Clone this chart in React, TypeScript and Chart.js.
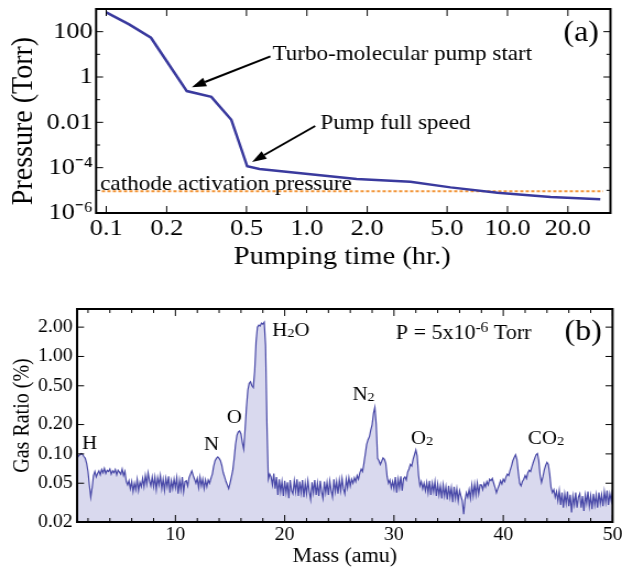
import React, { useEffect, useRef } from "react";
import { Chart, registerables } from "chart.js";

Chart.register(...registerables);

const SERIF = "'Liberation Serif', 'Times New Roman', Times, serif";
const STRETCH = 1.1;
const PAGE_W = 622;
const INNER_W = 565;

// ---------------- Panel (a): pump-down curve ----------------
const pumpTimeHr = [0.1, 0.13, 0.167, 0.252, 0.334, 0.42, 0.504, 0.58, 1.77, 3.28, 5.2, 8.9, 16.4, 29];
const pressureTorr = [710, 210, 54, 0.24, 0.133, 0.013, 1.15e-4, 8.7e-5, 3.2e-5, 2.4e-5, 1.35e-5, 7.8e-6, 5.1e-6, 4e-6];
const activationPressure = 9e-6;
const activationSpanHr = [0.095, 30];
const pressureTicks = [1e-6, 1e-4, 1e-2, 1, 100];
const pressureTickLabels = ["10\u207B\u2076", "10\u207B\u2074", "0.01", "1", "100"];
const pressureMinorTicks = [1e-5, 1e-3, 0.1, 10];
const timeTicks = [0.1, 0.2, 0.5, 1, 2, 5, 10, 20];
const timeTickLabels = ["0.1", "0.2", "0.5", "1.0", "2.0", "5.0", "10.0", "20.0"];

// ---------------- Panel (b): RGA spectrum ----------------
const massStart = 1;
const massStep = 0.125;
const gasRatio = [
  0.090, 0.095, 0.098, 0.101, 0.099, 0.094, 0.090, 0.080,
  0.066, 0.048, 0.036, 0.045, 0.060, 0.066, 0.058, 0.063,
  0.067, 0.061, 0.069, 0.064, 0.071, 0.063, 0.068, 0.066,
  0.070, 0.062, 0.067, 0.064, 0.069, 0.061, 0.068, 0.065,
  0.062, 0.070, 0.060, 0.066, 0.052, 0.048, 0.053, 0.044,
  0.052, 0.041, 0.050, 0.043, 0.055, 0.042, 0.051, 0.046,
  0.056, 0.046, 0.060, 0.049, 0.064, 0.053, 0.047, 0.058,
  0.046, 0.058, 0.043, 0.057, 0.048, 0.060, 0.044, 0.055,
  0.042, 0.056, 0.046, 0.059, 0.040, 0.053, 0.044, 0.055,
  0.045, 0.057, 0.039, 0.054, 0.043, 0.058, 0.041, 0.052,
  0.053, 0.047, 0.057, 0.062, 0.067, 0.060, 0.055, 0.050,
  0.056, 0.045, 0.058, 0.047, 0.055, 0.044, 0.054, 0.046,
  0.054, 0.050, 0.056, 0.062, 0.075, 0.085, 0.090, 0.093,
  0.090, 0.085, 0.076, 0.064, 0.058, 0.052, 0.048, 0.044,
  0.050, 0.058, 0.068, 0.090, 0.125, 0.155, 0.168, 0.172,
  0.160, 0.130, 0.112, 0.180, 0.300, 0.450, 0.530, 0.550,
  0.500, 0.480, 0.700, 1.400, 2.000, 2.100, 2.050, 2.200,
  2.150, 2.250, 1.300, 0.200, 0.055, 0.062, 0.058, 0.048,
  0.063, 0.044, 0.058, 0.038, 0.055, 0.041, 0.052, 0.037,
  0.053, 0.040, 0.051, 0.035, 0.054, 0.042, 0.039, 0.053,
  0.041, 0.055, 0.037, 0.052, 0.040, 0.054, 0.036, 0.050,
  0.039, 0.053, 0.041, 0.034, 0.051, 0.040, 0.054, 0.038,
  0.050, 0.037, 0.053, 0.041, 0.035, 0.052, 0.040, 0.051,
  0.038, 0.053, 0.042, 0.036, 0.055, 0.041, 0.052, 0.039,
  0.054, 0.042, 0.056, 0.044, 0.039, 0.055, 0.045, 0.057,
  0.047, 0.055, 0.050, 0.057, 0.052, 0.060, 0.055, 0.064,
  0.070, 0.066, 0.080, 0.100, 0.125, 0.140, 0.150, 0.175,
  0.200, 0.260, 0.300, 0.200, 0.090, 0.085, 0.078, 0.084,
  0.091, 0.088, 0.080, 0.058, 0.050, 0.054, 0.045, 0.052,
  0.044, 0.058, 0.040, 0.055, 0.045, 0.059, 0.042, 0.056,
  0.058, 0.054, 0.065, 0.070, 0.078, 0.075, 0.088, 0.098,
  0.110, 0.095, 0.060, 0.047, 0.052, 0.044, 0.050, 0.042,
  0.051, 0.040, 0.053, 0.038, 0.050, 0.041, 0.052, 0.037,
  0.049, 0.038, 0.047, 0.035, 0.048, 0.037, 0.046, 0.034,
  0.047, 0.036, 0.045, 0.032, 0.046, 0.035, 0.044, 0.033,
  0.042, 0.037, 0.033, 0.024, 0.034, 0.040, 0.036, 0.043,
  0.035, 0.048, 0.037, 0.049, 0.038, 0.050, 0.039, 0.048,
  0.048, 0.043, 0.050, 0.046, 0.052, 0.048, 0.055, 0.053,
  0.056, 0.050, 0.045, 0.040, 0.044, 0.048, 0.053, 0.049,
  0.055, 0.052, 0.058, 0.062, 0.060, 0.068, 0.075, 0.085,
  0.092, 0.098, 0.088, 0.065, 0.050, 0.047, 0.052, 0.055,
  0.060, 0.056, 0.064, 0.068, 0.066, 0.074, 0.082, 0.090,
  0.098, 0.101, 0.085, 0.060, 0.051, 0.058, 0.068, 0.076,
  0.082, 0.078, 0.062, 0.045, 0.040, 0.043, 0.036, 0.041,
  0.033, 0.042, 0.030, 0.040, 0.028, 0.039, 0.031, 0.041,
  0.029, 0.038, 0.025, 0.037, 0.030, 0.040, 0.028, 0.036,
  0.039, 0.028, 0.037, 0.026, 0.038, 0.031, 0.041, 0.029,
  0.037, 0.027, 0.039, 0.030, 0.038, 0.028, 0.040, 0.031,
  0.038, 0.029, 0.041, 0.032, 0.042, 0.030, 0.039, 0.033,
  0.043,
];
const massTicks = [10, 20, 30, 40, 50];
const massMinorTicks = [2, 4, 6, 8, 12, 14, 16, 18, 22, 24, 26, 28, 32, 34, 36, 38, 42, 44, 46, 48];
const ratioTicks = [0.02, 0.05, 0.1, 0.2, 0.5, 1, 2];
const ratioTickLabels = ["0.02", "0.05", "0.10", "0.20", "0.50", "1.00", "2.00"];

type TextPart = { t: string; sub?: boolean; sup?: boolean };
type Label = { parts: TextPart[]; x: number; y: number; size: number; align?: "left" | "center" };
type Arrow = { from: [number, number]; to: [number, number] };
type Title = { text: string; x: number; y: number; size: number; vertical?: boolean };
type Deco = {
  xMajor: number[];
  xMinor: number[];
  yMajor: number[];
  yMinor: number[];
  labels: Label[];
  arrows: Arrow[];
  titles: Title[];
};

const labelsA: Label[] = [
  { parts: [{ t: "Turbo-molecular pump start" }], x: 0.673, y: 5.77, size: 21 },
  { parts: [{ t: "Pump full speed" }], x: 1.167, y: 0.00486, size: 21 },
  { parts: [{ t: "(a)" }], x: 19.0, y: 40, size: 29 },
  { parts: [{ t: "cathode activation pressure" }], x: 0.0933, y: 1.07e-5, size: 21 },
];
const arrowsA: Arrow[] = [
  { from: [0.658, 8.07], to: [0.267, 0.357] },
  { from: [1.1, 0.0069], to: [0.533, 1.8e-4] },
];
const titlesA: Title[] = [
  { text: "Pumping time (hr.)", x: 342 / STRETCH, y: 257, size: 26 },
  { text: "Pressure (Torr)", x: 24 / STRETCH, y: 121, size: 28, vertical: true },
];

const labelsB: Label[] = [
  { parts: [{ t: "H" }], x: 2.15, y: 0.112, size: 19, align: "center" },
  { parts: [{ t: "N" }], x: 13.3, y: 0.1106, size: 19, align: "center" },
  { parts: [{ t: "O" }], x: 15.4, y: 0.206, size: 19, align: "center" },
  { parts: [{ t: "H" }, { t: "2", sub: true }, { t: "O" }], x: 18.86, y: 1.62, size: 19 },
  { parts: [{ t: "N" }, { t: "2", sub: true }], x: 26.2, y: 0.356, size: 19 },
  { parts: [{ t: "O" }, { t: "2", sub: true }], x: 31.55, y: 0.127, size: 19 },
  { parts: [{ t: "CO" }, { t: "2", sub: true }], x: 42.26, y: 0.127, size: 19 },
  { parts: [{ t: "P = 5x10" }, { t: "-6", sup: true }, { t: " Torr" }], x: 30.17, y: 1.5, size: 20 },
  { parts: [{ t: "(b)" }], x: 45.6, y: 1.48, size: 29 },
];

function decoPlugin(id: string, d: Deco) {
  return {
    id,
    afterDraw(chart: any) {
      const { ctx, chartArea: a } = chart;
      const xs = chart.scales.x;
      const ys = chart.scales.y;
      ctx.save();
      ctx.strokeStyle = "#000";
      ctx.lineWidth = 1;
      const tickX = (v: number, len: number) => {
        const p = xs.getPixelForValue(v);
        ctx.beginPath();
        ctx.moveTo(p, a.bottom);
        ctx.lineTo(p, a.bottom - len);
        ctx.moveTo(p, a.top);
        ctx.lineTo(p, a.top + len);
        ctx.stroke();
      };
      const tickY = (v: number, len: number) => {
        const p = ys.getPixelForValue(v);
        ctx.beginPath();
        ctx.moveTo(a.left, p);
        ctx.lineTo(a.left + len / STRETCH, p);
        ctx.moveTo(a.right, p);
        ctx.lineTo(a.right - len / STRETCH, p);
        ctx.stroke();
      };
      d.xMajor.forEach((v) => tickX(v, 7));
      d.xMinor.forEach((v) => tickX(v, 4));
      d.yMajor.forEach((v) => tickY(v, 7));
      d.yMinor.forEach((v) => tickY(v, 4));
      ctx.lineWidth = 2;
      ctx.strokeRect(a.left, a.top, a.right - a.left, a.bottom - a.top);

      // arrows
      ctx.fillStyle = "#000";
      d.arrows.forEach((ar) => {
        const x0 = xs.getPixelForValue(ar.from[0]);
        const y0 = ys.getPixelForValue(ar.from[1]);
        const x1 = xs.getPixelForValue(ar.to[0]);
        const y1 = ys.getPixelForValue(ar.to[1]);
        const ang = Math.atan2(y1 - y0, x1 - x0);
        const hl = 13;
        const hw = 4.5;
        const bx = x1 - hl * Math.cos(ang);
        const by = y1 - hl * Math.sin(ang);
        ctx.lineWidth = 2;
        ctx.beginPath();
        ctx.moveTo(x0, y0);
        ctx.lineTo(bx, by);
        ctx.stroke();
        ctx.beginPath();
        ctx.moveTo(x1, y1);
        ctx.lineTo(bx + hw * Math.sin(ang), by - hw * Math.cos(ang));
        ctx.lineTo(bx - hw * Math.sin(ang), by + hw * Math.cos(ang));
        ctx.closePath();
        ctx.fill();
      });

      // labels
      ctx.textBaseline = "alphabetic";
      ctx.textAlign = "left";
      d.labels.forEach((lb) => {
        const px = xs.getPixelForValue(lb.x);
        const py = ys.getPixelForValue(lb.y);
        const fontFor = (p: TextPart) =>
          `${p.sub || p.sup ? Math.round(lb.size * 0.68) : lb.size}px ${SERIF}`;
        const widths = lb.parts.map((p) => {
          ctx.font = fontFor(p);
          return ctx.measureText(p.t).width;
        });
        const total = widths.reduce((s, w) => s + w, 0);
        let x = lb.align === "center" ? px - total / 2 : px;
        lb.parts.forEach((p, i) => {
          ctx.font = fontFor(p);
          const dy = p.sub ? lb.size * 0.06 : p.sup ? -lb.size * 0.38 : 0;
          ctx.fillText(p.t, x, py + dy);
          x += widths[i];
        });
      });

      // axis titles
      ctx.textAlign = "center";
      ctx.textBaseline = "middle";
      d.titles.forEach((t) => {
        ctx.font = `${t.size}px ${SERIF}`;
        ctx.save();
        ctx.translate(t.x, t.y);
        if (t.vertical) ctx.rotate(-Math.PI / 2);
        ctx.fillText(t.text, 0, 0);
        ctx.restore();
      });
      ctx.restore();
    },
  };
}

function PanelA() {
  const ref = useRef<HTMLCanvasElement | null>(null);
  useEffect(() => {
    if (!ref.current) return;
    const chart = new Chart(ref.current, {
      type: "line",
      data: {
        datasets: [
          {
            data: pumpTimeHr.map((t, i) => ({ x: t, y: pressureTorr[i] })),
            borderColor: "#3a3a9e",
            borderWidth: 2.5,
            pointRadius: 0,
            tension: 0,
            fill: false,
          },
          {
            data: activationSpanHr.map((t) => ({ x: t, y: activationPressure })),
            borderColor: "#f2963a",
            borderWidth: 2,
            borderDash: [3, 2],
            pointRadius: 0,
            fill: false,
          },
        ],
      },
      options: {
        animation: false,
        responsive: false,
        devicePixelRatio: 1,
        layout: { padding: { left: 0, top: 9, right: 10.5, bottom: 0 } },
        plugins: { legend: { display: false }, tooltip: { enabled: false } },
        scales: {
          x: {
            type: "logarithmic",
            min: 0.089,
            max: 32.6,
            grid: { display: false, drawTicks: false },
            border: { display: false },
            ticks: {
              autoSkip: false,
              maxRotation: 0,
              padding: 1,
              color: "#000",
              font: { family: SERIF, size: 24 },
              callback: (_v: any, i: number) => timeTickLabels[i],
            },
            afterBuildTicks: (s: any) => {
              s.ticks = timeTicks.map((v) => ({ value: v }));
            },
            afterFit: (s: any) => {
              s.height = 67;
              s.paddingLeft = 0;
              s.paddingRight = 0;
            },
            title: { display: false },
          },
          y: {
            type: "logarithmic",
            min: 1e-6,
            max: 1000,
            grid: { display: false, drawTicks: false },
            border: { display: false },
            ticks: {
              autoSkip: false,
              padding: 3,
              color: "#000",
              font: { family: SERIF, size: 24 },
              callback: (_v: any, i: number) => pressureTickLabels[i],
            },
            afterBuildTicks: (s: any) => {
              s.ticks = pressureTicks.map((v) => ({ value: v }));
            },
            afterFit: (s: any) => {
              s.width = 87.3;
              s.paddingTop = 0;
              s.paddingBottom = 0;
            },
            title: { display: false },
          },
        },
      },
      plugins: [
        decoPlugin("decoA", {
          xMajor: timeTicks,
          xMinor: [],
          yMajor: pressureTicks,
          yMinor: pressureMinorTicks,
          labels: labelsA,
          arrows: arrowsA,
          titles: titlesA,
        }),
      ],
    } as any);
    return () => chart.destroy();
  }, []);
  return (
    <canvas
      ref={ref}
      width={INNER_W}
      height={280}
      style={{ position: "absolute", left: 0, top: 0, width: PAGE_W, height: 280 }}
    />
  );
}

function PanelB() {
  const ref = useRef<HTMLCanvasElement | null>(null);
  useEffect(() => {
    if (!ref.current) return;
    const chart = new Chart(ref.current, {
      type: "line",
      data: {
        datasets: [
          {
            data: gasRatio.map((v, i) => ({ x: massStart + i * massStep, y: v })),
            borderColor: "#4a4aa8",
            backgroundColor: "#d9d9ee",
            borderWidth: 1.2,
            pointRadius: 0,
            tension: 0,
            fill: "start",
          },
        ],
      },
      options: {
        animation: false,
        responsive: false,
        devicePixelRatio: 1,
        layout: { padding: { left: 0, top: 19, right: 8.6, bottom: 0 } },
        plugins: { legend: { display: false }, tooltip: { enabled: false } },
        scales: {
          x: {
            type: "linear",
            min: 1,
            max: 50,
            grid: { display: false, drawTicks: false },
            border: { display: false },
            ticks: {
              autoSkip: false,
              maxRotation: 0,
              padding: 2,
              color: "#000",
              font: { family: SERIF, size: 18 },
              callback: (_v: any, i: number) => String(massTicks[i]),
            },
            afterBuildTicks: (s: any) => {
              s.ticks = massTicks.map((v) => ({ value: v }));
            },
            afterFit: (s: any) => {
              s.height = 51;
              s.paddingLeft = 0;
              s.paddingRight = 0;
            },
            title: {
              display: true,
              text: "Mass (amu)",
              color: "#000",
              font: { family: SERIF, size: 20 },
              padding: { top: 0, bottom: 4 },
            },
          },
          y: {
            type: "logarithmic",
            min: 0.02,
            max: 3.07,
            grid: { display: false, drawTicks: false },
            border: { display: false },
            ticks: {
              autoSkip: false,
              padding: 4,
              color: "#000",
              font: { family: SERIF, size: 18 },
              callback: (_v: any, i: number) => ratioTickLabels[i],
            },
            afterBuildTicks: (s: any) => {
              s.ticks = ratioTicks.map((v) => ({ value: v }));
            },
            afterFit: (s: any) => {
              s.width = 70;
              s.paddingTop = 0;
              s.paddingBottom = 0;
            },
            title: {
              display: true,
              text: "Gas Ratio (%)",
              color: "#000",
              font: { family: SERIF, size: 20 },
              padding: { top: 8.5, bottom: 0 },
            },
          },
        },
      },
      plugins: [
        decoPlugin("decoB", {
          xMajor: massTicks,
          xMinor: massMinorTicks,
          yMajor: ratioTicks,
          yMinor: [],
          labels: labelsB,
          arrows: [],
          titles: [],
        }),
      ],
    } as any);
    return () => chart.destroy();
  }, []);
  return (
    <canvas
      ref={ref}
      width={INNER_W}
      height={283}
      style={{ position: "absolute", left: 0, top: 290, width: PAGE_W, height: 283 }}
    />
  );
}

export default function App() {
  return (
    <div
      style={{
        position: "fixed",
        left: 0,
        top: 0,
        width: PAGE_W,
        height: 573,
        background: "#fff",
        overflow: "hidden",
      }}
    >
      <PanelA />
      <PanelB />
    </div>
  );
}
